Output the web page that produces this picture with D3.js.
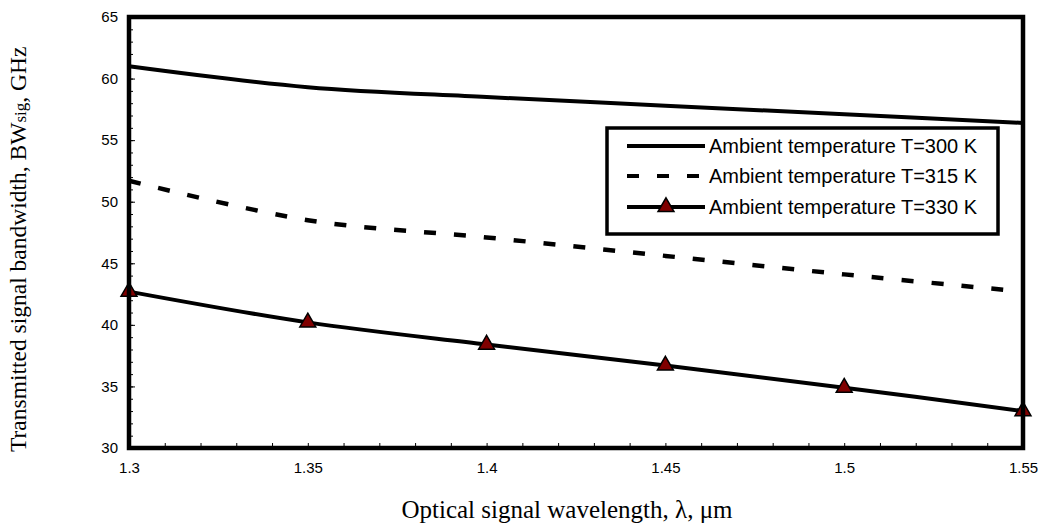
<!DOCTYPE html>
<html>
<head>
<meta charset="utf-8">
<script src="https://cdn.jsdelivr.net/npm/d3@7"></script>
<style>
  body { margin: 0; background: #fff; }
</style>
</head>
<body>
<div id="container"></div>
<script>
var width = 1039,
    height = 525;

// data
var wavelengths = [1.3, 1.35, 1.4, 1.45, 1.5, 1.55];
var bw300 = [61.0, 59.3, 58.5, 57.8, 57.1, 56.4];
var bw315 = [51.7, 48.5, 47.1, 45.6, 44.1, 42.7];
var bw330 = [42.7, 40.2, 38.4, 36.7, 34.9, 33.0];
var seriesNames = ["Ambient temperature T=300 K", "Ambient temperature T=315 K", "Ambient temperature T=330 K"];
var xTicks = [1.3, 1.35, 1.4, 1.45, 1.5, 1.55];
var yTicks = [30, 35, 40, 45, 50, 55, 60, 65];

var plotLeft = 129, plotRight = 1023, plotTop = 17, plotBottom = 448;

var svg = d3.select("#container").append("svg")
    .attr("width", width)
    .attr("height", height);

var x = d3.scaleLinear().domain([1.3, 1.55]).range([plotLeft, plotRight]);
var y = d3.scaleLinear().domain([30, 65]).range([plotBottom, plotTop]);

// minor ticks, inside the frame
svg.append("g")
    .attr("transform", "translate(" + plotLeft + ",0)")
    .call(d3.axisLeft(y).tickValues(d3.range(30, 66, 1)).tickSize(-4).tickFormat(""))
    .call(g => g.select(".domain").remove())
    .selectAll("line").attr("stroke", "#000").attr("stroke-width", 1);

svg.append("g")
    .attr("transform", "translate(0," + plotBottom + ")")
    .call(d3.axisBottom(x).tickValues(d3.range(0, 26).map(i => 1.3 + i * 0.01)).tickSize(-5).tickFormat(""))
    .call(g => g.select(".domain").remove())
    .selectAll("line").attr("stroke", "#000").attr("stroke-width", 1);

// labelled ticks
var yAxis = svg.append("g")
    .attr("transform", "translate(" + plotLeft + ",0)")
    .call(d3.axisLeft(y).tickValues(yTicks).tickSize(-6).tickPadding(11).tickFormat(d3.format("d")));
yAxis.select(".domain").remove();
yAxis.selectAll("line").attr("stroke", "#000").attr("stroke-width", 1);
yAxis.selectAll("text")
    .attr("font-family", "Liberation Sans, Arial, sans-serif")
    .attr("font-size", 15)
    .attr("fill", "#000");

var xAxis = svg.append("g")
    .attr("transform", "translate(0," + plotBottom + ")")
    .call(d3.axisBottom(x).tickValues(xTicks).tickSize(0).tickPadding(14).tickFormat(d => String(+d.toFixed(2))));
xAxis.select(".domain").remove();
xAxis.selectAll("text")
    .attr("font-family", "Liberation Sans, Arial, sans-serif")
    .attr("font-size", 15)
    .attr("fill", "#000");

// series
var line = d3.line()
    .x((d, i) => x(wavelengths[i]))
    .y(d => y(d))
    .curve(d3.curveCatmullRom.alpha(0));

svg.append("path")
    .datum(bw300)
    .attr("d", line)
    .attr("fill", "none")
    .attr("stroke", "#000")
    .attr("stroke-width", 4);

svg.append("path")
    .datum(bw315)
    .attr("d", line)
    .attr("fill", "none")
    .attr("stroke", "#000")
    .attr("stroke-width", 4.5)
    .attr("stroke-dasharray", "12,18");

svg.append("path")
    .datum(bw330)
    .attr("d", line)
    .attr("fill", "none")
    .attr("stroke", "#000")
    .attr("stroke-width", 4);

var tri = d3.symbol().type(d3.symbolTriangle).size(110);

svg.append("g").selectAll("path")
    .data(bw330)
    .join("path")
    .attr("d", tri)
    .attr("transform", (d, i) => "translate(" + x(wavelengths[i]) + "," + y(d) + ")")
    .attr("fill", "#800000")
    .attr("stroke", "#000")
    .attr("stroke-width", 1.5);

// frame
svg.append("rect")
    .attr("x", plotLeft)
    .attr("y", plotTop)
    .attr("width", plotRight - plotLeft)
    .attr("height", plotBottom - plotTop)
    .attr("fill", "none")
    .attr("stroke", "#000")
    .attr("stroke-width", 4.5);

// legend
var legend = svg.append("g");
legend.append("rect")
    .attr("x", 607)
    .attr("y", 128)
    .attr("width", 391)
    .attr("height", 106)
    .attr("fill", "#fff")
    .attr("stroke", "#000")
    .attr("stroke-width", 3.5);

var rowY = [146, 176, 207];
var dashes = [null, "12,18", null];
seriesNames.forEach(function (name, i) {
    legend.append("line")
        .attr("x1", 627).attr("x2", 705)
        .attr("y1", rowY[i]).attr("y2", rowY[i])
        .attr("stroke", "#000")
        .attr("stroke-width", 4)
        .attr("stroke-dasharray", dashes[i]);
    if (i == 2) {
        legend.append("path")
            .attr("d", tri)
            .attr("transform", "translate(666," + rowY[i] + ")")
            .attr("fill", "#800000")
            .attr("stroke", "#000")
            .attr("stroke-width", 1.5);
    }
    legend.append("text")
        .attr("x", 709)
        .attr("y", rowY[i])
        .attr("dy", "0.35em")
        .attr("font-family", "Liberation Sans, Arial, sans-serif")
        .attr("font-size", 20)
        .attr("fill", "#000")
        .text(name);
});

// axis titles
svg.append("text")
    .attr("x", 567)
    .attr("y", 518)
    .attr("text-anchor", "middle")
    .attr("font-family", "Liberation Serif, Times New Roman, serif")
    .attr("font-size", 25)
    .attr("fill", "#000")
    .text("Optical signal wavelength, λ, μm");

var yTitle = svg.append("text")
    .attr("transform", "translate(26,452) rotate(-90)")
    .attr("font-family", "Liberation Serif, Times New Roman, serif")
    .attr("font-size", 23.5)
    .attr("fill", "#000");
yTitle.append("tspan").text("Transmitted signal bandwidth, BW");
yTitle.append("tspan").attr("font-size", 17).text("sig");
yTitle.append("tspan").text(", GHz");
</script>
</body>
</html>
